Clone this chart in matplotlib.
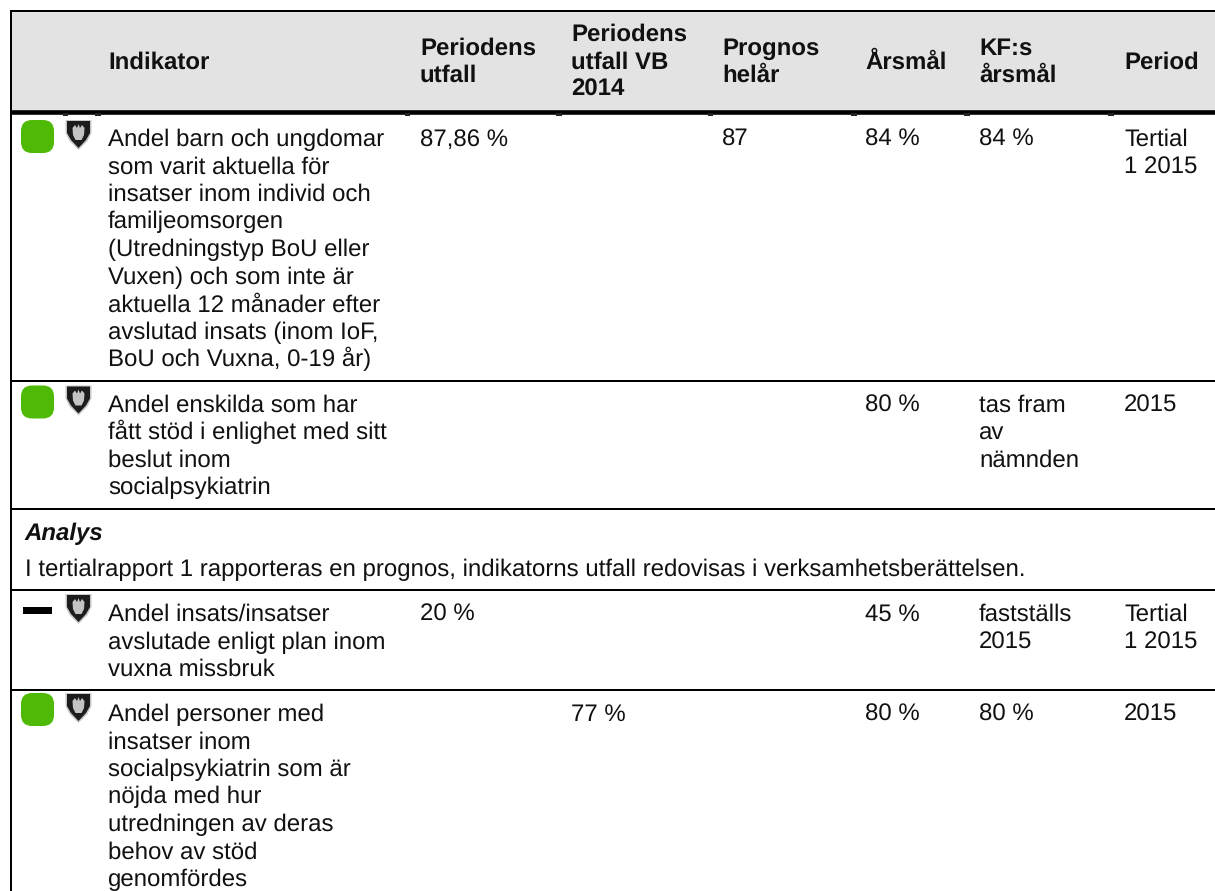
import matplotlib
matplotlib.use("Agg")
import matplotlib.pyplot as plt
from matplotlib.patches import FancyBboxPatch, Polygon, Rectangle

plt.rcParams["font.family"] = ["Liberation Sans", "DejaVu Sans"]
plt.rcParams["text.hinting"] = "no_hinting"
plt.rcParams["text.hinting_factor"] = 1

# Table content
headers = ["Indikator", "Periodens\nutfall", "Periodens\nutfall VB\n2014", "Prognos\nhelår",
           "Årsmål", "KF:s\nårsmål", "Period"]
indikator = [
    "Andel barn och ungdomar\nsom varit aktuella för\ninsatser inom individ och\nfamiljeomsorgen\n(Utredningstyp BoU eller\nVuxen) och som inte är\naktuella 12 månader efter\navslutad insats (inom IoF,\nBoU och Vuxna, 0-19 år)",
    "Andel enskilda som har\nfått stöd i enlighet med sitt\nbeslut inom\nsocialpsykiatrin",
    "Andel insats/insatser\navslutade enligt plan inom\nvuxna missbruk",
    "Andel personer med\ninsatser inom\nsocialpsykiatrin som är\nnöjda med hur\nutredningen av deras\nbehov av stöd\ngenomfördes",
]
utfall = ["87,86 %", "", "20 %", ""]
utfall_vb = ["", "", "", "77 %"]
prognos = ["87", "", "", ""]
arsmal = ["84 %", "80 %", "45 %", "80 %"]
kf_arsmal = ["84 %", "tas fram\nav\nnämnden", "fastställs\n2015", "80 %"]
period = ["Tertial\n1 2015", "2015", "Tertial\n1 2015", "2015"]
status = ["green", "green", "dash", "green"]
analys_title = "Analys"
analys_text = "I tertialrapport 1 rapporteras en prognos, indikatorns utfall redovisas i verksamhetsberättelsen."

# Layout in pixels
W, H = 1215, 891
col_x = [108, 420, 571, 722, 865, 979, 1124]
baselines = [145.7, 411.7, 621, 720.7]
icon_tops = [120, 385.5, 594, 693]
row_lines = [381, 508.5, 590, 690]
header_ticks = [(63, 68), (95, 101), (405, 410), (556, 562), (708, 713), (851, 857), (964, 970), (1108, 1114)]
LINE = 27.6
FS = 17.25
TXT = "#111111"
GREEN = "#4fba06"

fig = plt.figure(figsize=(W / 100, H / 100), dpi=100)
ax = fig.add_axes([0, 0, 1, 1])
ax.set_xlim(0, W)
ax.set_ylim(H, 0)
ax.axis("off")


def put_lines(x, y, text, **kw):
    for i, line in enumerate(text.split("\n")):
        ax.text(x, y + i * LINE, line, fontsize=FS, color=TXT, va="baseline", ha="left", **kw)


def shield(cx, top):
    # small municipal crest: dark shield with pale crown inside
    outer = [(-13, 0), (13, 0), (13, 13), (9, 21), (0, 30), (-9, 21), (-13, 13)]
    body = [(-11.5, 1), (11.5, 1), (11.5, 13), (7.5, 20), (0, 28), (-7.5, 20), (-11.5, 13)]
    crown = [(-6, 8), (-3.5, 5), (-1.5, 8), (0, 4), (1.5, 8), (3.5, 5), (6, 8), (5.5, 15), (3, 20), (-3, 20), (-5.5, 15)]
    ax.add_patch(Polygon([(cx + a, top + b) for a, b in outer], fc="#c8c8c8", ec="none", zorder=3))
    ax.add_patch(Polygon([(cx + a, top + b) for a, b in body], fc="#1c1c1c", ec="none", zorder=4))
    ax.add_patch(Polygon([(cx + a, top + b) for a, b in crown], fc="#c4c4c4", ec="none", zorder=5))


# Header band and rules
ax.add_patch(Rectangle((11, 11), W - 11, 100, fc="#e3e3e3", ec="none", zorder=0))
ax.plot([10, W], [11, 11], color="black", lw=1.44, solid_capstyle="butt")
ax.plot([10, W], [112.2, 112.2], color="black", lw=3.3, solid_capstyle="butt")
ax.plot([11, 11], [10, H], color="black", lw=1.44, solid_capstyle="butt")
for y in row_lines:
    ax.plot([10, W], [y, y], color="black", lw=1.44, solid_capstyle="butt")
for x0, x1 in header_ticks:
    ax.add_patch(Rectangle((x0, 113), x1 - x0, 2.5, fc="#222222", ec="none", zorder=2))

# Header text, vertically centred in the band
for x, label in zip(col_x, headers):
    parts = label.split("\n")
    y0 = 68.3 - (len(parts) - 1) * LINE / 2
    for i, line in enumerate(parts):
        ax.text(x, y0 + i * LINE, line, fontsize=FS, fontweight="bold", color=TXT, va="baseline")

# Body rows
for i, y in enumerate(baselines):
    put_lines(col_x[0], y, indikator[i])
    for x, col in zip(col_x[1:], [utfall, utfall_vb, prognos, arsmal, kf_arsmal, period]):
        if col[i]:
            put_lines(x, y, col[i])
    top = icon_tops[i]
    if status[i] == "green":
        ax.add_patch(FancyBboxPatch((21, top), 33, 33, boxstyle="round,pad=0,rounding_size=11",
                                    fc=GREEN, ec="none", zorder=3))
    else:
        ax.add_patch(Rectangle((23, top + 12.7), 29, 7.3, fc="black", ec="none", zorder=3))
    shield(78.5, top)

# Analys row
ax.text(25, 540, analys_title, fontsize=FS, fontweight="bold", style="italic", color=TXT, va="baseline")
ax.text(25, 575.7, analys_text, fontsize=FS, color=TXT, va="baseline")

plt.savefig("out.png", dpi=100)
